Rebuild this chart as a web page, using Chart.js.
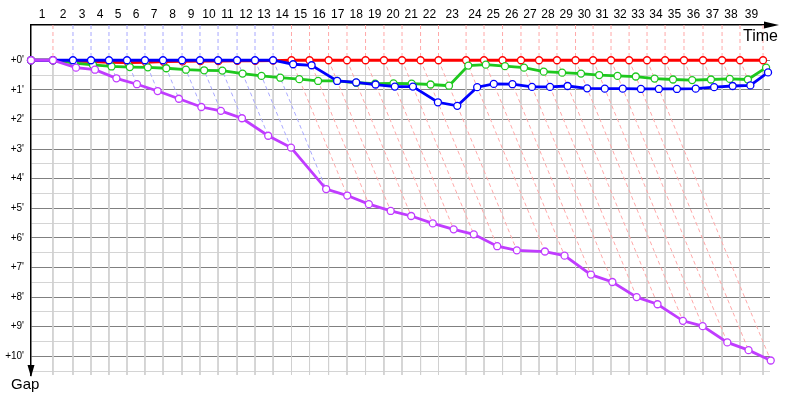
<!DOCTYPE html>
<html>
<head>
<meta charset="utf-8">
<script src="https://cdn.jsdelivr.net/npm/chart.js@4.4.1/dist/chart.umd.min.js"></script>
<style>
  html, body { margin: 0; padding: 0; background: #fff; }
  #wrap { width: 800px; height: 400px; }
</style>
</head>
<body>
<div id="wrap"><canvas id="chart"></canvas></div>
<script>
// leader's race time at the end of each lap (minutes), index 0 = start
const leaderTime = [0, 1.80, 3.44, 4.92, 6.39, 7.87, 9.34, 10.82, 12.38, 13.85, 15.33,
  16.89, 18.36, 19.84, 21.35, 22.83, 24.39, 25.90, 27.42, 28.93, 30.41,
  31.93, 33.40, 35.66, 37.13, 38.65, 40.16, 41.64, 43.11, 44.63, 46.07,
  47.54, 49.02, 50.49, 51.97, 53.52, 55.08, 56.64, 58.11, 60.00];

const lapLabels = [1, 2, 3, 4, 5, 6, 7, 8, 9, 10, 11, 12, 13, 14, 15, 16, 17, 18, 19, 20,
  21, 22, 23, 24, 25, 26, 27, 28, 29, 30, 31, 32, 33, 34, 35, 36, 37, 38, 39];

// gap to the leader after each lap (minutes)
const gapRed = [0, 0, 0.03, 0.05, 0.07, 0.08, 0.07, 0.05, 0.04, 0.03, 0.03, 0.02, 0.02, 0.01,
  0, 0, 0, 0, 0, 0, 0, 0, 0, 0, 0, 0, 0, 0, 0, 0, 0, 0, 0, 0, 0, 0, 0, 0, 0, 0];
const gapBlue = [0, 0, 0, 0, 0, 0, 0, 0, 0, 0, 0, 0, 0, 0,
  0.135, 0.17, 0.70, 0.75, 0.82, 0.89, 0.89, 1.42, 1.54, 0.91, 0.80, 0.81, 0.90,
  0.90, 0.87, 0.95, 0.96, 0.96, 0.97, 0.97, 0.97, 0.96, 0.91, 0.87, 0.85, 0.41];
const gapGreen = [0, 0, 0.10, 0.16, 0.21, 0.23, 0.24, 0.27, 0.32, 0.34, 0.35, 0.45, 0.53,
  0.59, 0.64, 0.70, 0.70, 0.76, 0.79, 0.78, 0.79, 0.82, 0.86, 0.18, 0.15, 0.20, 0.25,
  0.385, 0.42, 0.45, 0.50, 0.53, 0.55, 0.62, 0.65, 0.67, 0.65, 0.63, 0.65, 0.25];
const gapPurple = [0, 0, 0.25, 0.32, 0.61, 0.81, 1.04, 1.30, 1.58, 1.71, 1.96, 2.55, 2.95,
  4.35, 4.57, 4.86, 5.09, 5.26, 5.51, 5.71, 5.88, 6.28, 6.42, 6.46, 6.60, 7.24, 7.49,
  8.00, 8.24, 8.80, 8.98, 9.53, 9.79, 10.14];

const gapTicks = [0, 0.5, 1, 1.5, 2, 2.5, 3, 3.5, 4, 4.5, 5, 5.5, 6, 6.5, 7, 7.5, 8, 8.5,
  9, 9.5, 10, 10.5];

const Y_TOP = -1.19, Y_BOTTOM = 10.63;

// a car's lap n sits at its own race time (leader time + gap)
function carPoints(gaps) {
  return gaps.map((g, i) => ({ x: leaderTime[i] + g, y: g }));
}

const vGrid = [], topRed = [], topBlue = [], diagRed = [], diagBlue = [];
for (let n = 1; n < leaderTime.length; n++) {
  const t = leaderTime[n];
  vGrid.push({ x: t, y: 0 }, { x: t, y: Y_BOTTOM }, { x: t, y: null });
  const blueLeads = gapBlue[n] < gapRed[n];
  const top = blueLeads ? topBlue : topRed;
  top.push({ x: t, y: Y_TOP }, { x: t, y: 0 }, { x: t, y: null });
  // lap line runs to the slowest car that completed lap n
  const gaps = [gapRed, gapBlue, gapGreen, gapPurple].filter(a => n < a.length).map(a => a[n]);
  const last = Math.max.apply(null, gaps);
  if (last > 0) {
    const d = blueLeads ? diagBlue : diagRed;
    d.push({ x: t, y: 0 }, { x: t + last, y: last }, { x: t, y: null });
  }
}

function guide(data, color, dash, order) {
  return { data, borderColor: color, borderWidth: 1, borderDash: dash, pointRadius: 0, order, spanGaps: false };
}
function car(gaps, color, order) {
  return {
    data: carPoints(gaps), borderColor: color, borderWidth: 2.8, pointRadius: 3.5,
    pointBorderWidth: 1.3, pointBackgroundColor: '#fff', pointBorderColor: color, order, clip: false
  };
}

const axisDecor = {
  id: 'axisDecor',
  afterDraw(chart) {
    const { ctx, chartArea: a } = chart;
    ctx.save();
    ctx.fillStyle = '#000';
    ctx.beginPath();
    ctx.moveTo(a.right - 6, a.top - 3.5); ctx.lineTo(a.right + 9, a.top); ctx.lineTo(a.right - 6, a.top + 3.5);
    ctx.closePath(); ctx.fill();
    ctx.beginPath();
    ctx.moveTo(a.left - 3.5, a.bottom - 10); ctx.lineTo(a.left, a.bottom + 2); ctx.lineTo(a.left + 3.5, a.bottom - 10);
    ctx.closePath(); ctx.fill();
    ctx.textBaseline = 'alphabetic';
    ctx.font = '16px "Liberation Sans"';
    ctx.fillText('Time', 743, 41);
    ctx.font = '15px "Liberation Sans"';
    ctx.fillText('Gap', 11, 389);
    ctx.restore();
  }
};

new Chart(document.getElementById('chart'), {
  type: 'line',
  data: {
    datasets: [
      car(gapPurple, '#c03cff', 1),
      car(gapBlue, '#0000ff', 2),
      car(gapGreen, '#1ec81e', 3),
      car(gapRed, '#ff0000', 4),
      guide(diagRed, '#ffa8a8', [4, 3], 5),
      guide(diagBlue, '#a8a8ff', [4, 3], 5),
      guide(topRed, '#ffa8a8', [4, 3], 5),
      guide(topBlue, '#a8a8ff', [4, 3], 5),
      guide(vGrid, '#d0d0d0', [], 6)
    ]
  },
  options: {
    responsive: true,
    maintainAspectRatio: false,
    animation: false,
    layout: { padding: { left: 0, top: 0, right: 30, bottom: 25 } },
    plugins: { legend: { display: false }, tooltip: { enabled: false } },
    scales: {
      x: {
        type: 'linear', position: 'top', min: 0, max: 60.57,
        grid: { display: false, drawTicks: false },
        border: { display: true, color: '#000', width: 1.5 },
        afterFit: s => { s.height = 25; },
        afterBuildTicks: s => {
          s.ticks = lapLabels.map((l, i) => ({ value: (leaderTime[i] + leaderTime[i + 1]) / 2 }));
        },
        ticks: {
          autoSkip: false, maxRotation: 0, padding: 3, color: '#000',
          font: { family: 'Liberation Sans', size: 12 },
          callback: (v, i) => lapLabels[i]
        }
      },
      y: {
        type: 'linear', reverse: true, min: Y_TOP, max: Y_BOTTOM,
        afterFit: s => { s.width = 31; },
        afterBuildTicks: s => { s.ticks = gapTicks.map(v => ({ value: v })); },
        grid: {
          drawTicks: false, lineWidth: 1,
          color: c => (c.tick && Number.isInteger(c.tick.value)) ? '#808080' : '#d4d4d4'
        },
        border: { display: true, color: '#000', width: 1.5 },
        ticks: {
          padding: 7, color: '#000', font: { family: 'Liberation Sans', size: 10 },
          callback: v => Number.isInteger(v) ? '+' + v + "'" : ''
        }
      }
    }
  },
  plugins: [axisDecor]
});
</script>
</body>
</html>
